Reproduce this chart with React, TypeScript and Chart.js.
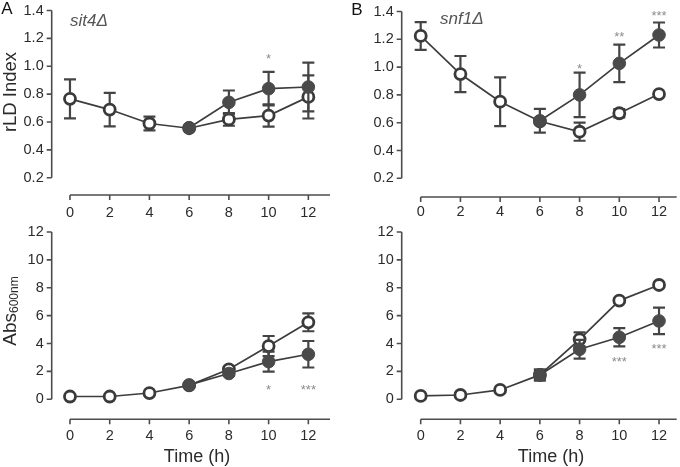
import React, { useEffect, useRef } from 'react';
import { Chart, registerables } from 'chart.js';

Chart.register(...registerables);

// ---------- data ----------
const timeTicks = [0, 2, 4, 6, 8, 10, 12];
const timeTickLabels = ['0', '2', '4', '6', '8', '10', '12'];
const rldTicks = [0.2, 0.4, 0.6, 0.8, 1.0, 1.2, 1.4];
const rldTickLabels = ['0.2', '0.4', '0.6', '0.8', '1.0', '1.2', '1.4'];
const absTicks = [0, 2, 4, 6, 8, 10, 12];
const absTickLabels = ['0', '2', '4', '6', '8', '10', '12'];

const hoursAll = [0, 2, 4, 6, 8, 10, 12];
const hoursTreated = [6, 8, 10, 12];

// A: sit4Δ
const sit4RldOpen = [0.766, 0.689, 0.589, 0.555, 0.618, 0.646, 0.78];
const sit4RldOpenErr = [0.14, 0.12, 0.05, 0.01, 0.045, 0.08, 0.155];
const sit4RldFilled = [0.559, 0.741, 0.839, 0.851];
const sit4RldFilledErr = [0.01, 0.085, 0.12, 0.175];
const sit4AbsOpen = [0.2, 0.2, 0.45, 1.0, 2.15, 3.82, 5.52];
const sit4AbsOpenErr = [0.05, 0.05, 0.08, 0.1, 0.2, 0.72, 0.64];
const sit4AbsFilled = [1.03, 1.85, 2.7, 3.23];
const sit4AbsFilledErr = [0.1, 0.15, 0.72, 0.95];

// B: snf1Δ
const snf1RldOpen = [1.224, 0.95, 0.751, 0.61, 0.535, 0.668, 0.806];
const snf1RldOpenErr = [0.1, 0.13, 0.175, 0.02, 0.065, 0.03, 0.01];
const snf1RldFilled = [0.614, 0.8, 1.027, 1.231];
const snf1RldFilledErr = [0.085, 0.16, 0.135, 0.09];
const snf1AbsOpen = [0.24, 0.31, 0.67, 1.75, 4.3, 7.08, 8.2];
const snf1AbsOpenErr = [0.05, 0.05, 0.08, 0.3, 0.5, 0.15, 0.1];
const snf1AbsFilled = [1.74, 3.59, 4.45, 5.62];
const snf1AbsFilledErr = [0.4, 0.67, 0.66, 0.95];

// significance marks
const sit4RldStarTimes = [10];
const sit4RldStarY = [1.075];
const sit4RldStarText = ['*'];
const snf1RldStarTimes = [8, 10, 12];
const snf1RldStarY = [1.01, 1.243, 1.394];
const snf1RldStarText = ['*', '**', '***'];
const sit4AbsStarTimes = [10, 12];
const sit4AbsStarY = [0.88, 0.88];
const sit4AbsStarText = ['*', '***'];
const snf1AbsStarTimes = [10, 12];
const snf1AbsStarY = [2.89, 3.82];
const snf1AbsStarText = ['***', '***'];

// ---------- styling ----------
const FONT = '"Liberation Sans", Arial, Helvetica, sans-serif';
const AXIS_COLOR = '#4d4d4d';
const TEXT_COLOR = '#2b2b2b';
const LINE_COLOR = '#3d3d3d';
const FILL_COLOR = '#4a4a4a';
const ERR_COLOR = '#444444';
const STAR_COLOR = '#8c8c8c';

type Spec = {
  left: number; top: number; w: number; h: number;
  L: number; R: number; T: number; B: number;
  xMin: number; xMax: number; yMin: number; yMax: number;
  xAxisY: number; xTickPad: number;
  yTicks: number[]; yTickLabels: string[];
  open: number[]; openErr: number[]; filled: number[]; filledErr: number[];
  starT: number[]; starY: number[]; starText: string[];
  yTitle?: 'rld' | 'abs';
  yTitlePos?: [number, number];
  xTitlePos?: [number, number];
  panelLetter?: string; letterPos?: [number, number];
  strain?: string; strainPos?: [number, number];
};

function makeDecor(p: Spec) {
  return {
    id: 'decor',
    beforeDatasetsDraw(chart: any) {
      const ctx = chart.ctx;
      const xs = chart.scales.x, ys = chart.scales.y;
      const area = chart.chartArea;
      ctx.save();
      ctx.strokeStyle = AXIS_COLOR;
      ctx.lineWidth = 1.6;
      // y axis
      const x0 = area.left;
      const yTop = ys.getPixelForValue(p.yTicks[p.yTicks.length - 1]);
      const yBot = ys.getPixelForValue(p.yTicks[0]);
      ctx.beginPath();
      ctx.moveTo(x0, yTop); ctx.lineTo(x0, yBot);
      p.yTicks.forEach((v) => {
        const y = ys.getPixelForValue(v);
        ctx.moveTo(x0 - 5, y); ctx.lineTo(x0, y);
      });
      ctx.stroke();
      // x axis (detached)
      const ya = p.xAxisY;
      ctx.beginPath();
      ctx.moveTo(xs.getPixelForValue(timeTicks[0]), ya);
      ctx.lineTo(area.right, ya);
      timeTicks.forEach((v) => {
        const x = xs.getPixelForValue(v);
        ctx.moveTo(x, ya); ctx.lineTo(x, ya + 5);
      });
      ctx.stroke();
      ctx.restore();
    },
    beforeDatasetDraw(chart: any, args: any) {
      const ds = chart.data.datasets[args.index];
      const errs: number[] = ds.errors;
      if (!errs) return;
      const ctx = chart.ctx;
      const xs = chart.scales.x, ys = chart.scales.y;
      ctx.save();
      ctx.strokeStyle = ERR_COLOR;
      ctx.lineWidth = 2.2;
      ds.data.forEach((pt: any, i: number) => {
        const e = errs[i];
        if (!e) return;
        const x = xs.getPixelForValue(pt.x);
        const y1 = ys.getPixelForValue(pt.y + e);
        const y2 = ys.getPixelForValue(pt.y - e);
        ctx.beginPath();
        ctx.moveTo(x, y1); ctx.lineTo(x, y2);
        ctx.moveTo(x - 6, y1); ctx.lineTo(x + 6, y1);
        ctx.moveTo(x - 6, y2); ctx.lineTo(x + 6, y2);
        ctx.stroke();
      });
      ctx.restore();
    },
    afterDraw(chart: any) {
      const ctx = chart.ctx;
      const xs = chart.scales.x, ys = chart.scales.y;
      ctx.save();
      // stars
      ctx.fillStyle = STAR_COLOR;
      ctx.font = `13px ${FONT}`;
      ctx.textAlign = 'center';
      ctx.textBaseline = 'alphabetic';
      p.starT.forEach((t, i) => {
        const x = xs.getPixelForValue(t);
        const y = ys.getPixelForValue(p.starY[i]);
        ctx.fillText(p.starText[i], x, y + 0.57 * 13);
      });
      // y title
      if (p.yTitle && p.yTitlePos) {
        ctx.fillStyle = TEXT_COLOR;
        ctx.save();
        ctx.translate(p.yTitlePos[0], p.yTitlePos[1]);
        ctx.rotate(-Math.PI / 2);
        ctx.textBaseline = 'middle';
        if (p.yTitle === 'rld') {
          ctx.font = `18.5px ${FONT}`;
          ctx.textAlign = 'center';
          ctx.fillText('rLD Index', 0, 0);
        } else {
          ctx.font = `19px ${FONT}`;
          const w1 = ctx.measureText('Abs').width;
          ctx.font = `12px ${FONT}`;
          const w2 = ctx.measureText('600nm').width;
          const start = -(w1 + w2) / 2;
          ctx.textAlign = 'left';
          ctx.font = `19px ${FONT}`;
          ctx.fillText('Abs', start, 0);
          ctx.font = `12px ${FONT}`;
          ctx.fillText('600nm', start + w1, 4);
        }
        ctx.restore();
      }
      // x title
      if (p.xTitlePos) {
        ctx.fillStyle = TEXT_COLOR;
        ctx.font = `18px ${FONT}`;
        ctx.textAlign = 'center';
        ctx.textBaseline = 'middle';
        ctx.fillText('Time (h)', p.xTitlePos[0], p.xTitlePos[1]);
      }
      // panel letter
      if (p.panelLetter && p.letterPos) {
        ctx.fillStyle = '#111111';
        ctx.font = `17px ${FONT}`;
        ctx.textAlign = 'center';
        ctx.textBaseline = 'middle';
        ctx.fillText(p.panelLetter, p.letterPos[0], p.letterPos[1]);
      }
      // strain label
      if (p.strain && p.strainPos) {
        ctx.fillStyle = '#555555';
        ctx.font = `italic 17px ${FONT}`;
        ctx.textAlign = 'left';
        ctx.textBaseline = 'middle';
        ctx.fillText(p.strain, p.strainPos[0], p.strainPos[1]);
      }
      ctx.restore();
    },
  };
}

function Panel({ spec }: { spec: Spec }) {
  const ref = useRef<HTMLCanvasElement | null>(null);
  useEffect(() => {
    const p = spec;
    const openPts = hoursAll.map((t, i) => ({ x: t, y: p.open[i] }));
    const filledPts = hoursTreated.map((t, i) => ({ x: t, y: p.filled[i] }));
    const tickFont = { family: FONT, size: 14.5 };
    const chart = new Chart(ref.current as HTMLCanvasElement, {
      type: 'line',
      data: {
        datasets: [
          {
            data: filledPts,
            errors: p.filledErr,
            borderColor: LINE_COLOR,
            borderWidth: 1.7,
            pointRadius: 6.3,
            pointBackgroundColor: FILL_COLOR,
            pointBorderColor: FILL_COLOR,
            pointBorderWidth: 1,
            tension: 0,
            fill: false,
            clip: false,
          } as any,
          {
            data: openPts,
            errors: p.openErr,
            borderColor: LINE_COLOR,
            borderWidth: 1.7,
            pointRadius: 5.5,
            pointBackgroundColor: '#ffffff',
            pointBorderColor: '#3a3a3a',
            pointBorderWidth: 2.8,
            tension: 0,
            fill: false,
            clip: false,
          } as any,
        ],
      },
      options: {
        responsive: false,
        animation: false,
        devicePixelRatio: 1,
        events: [],
        layout: { autoPadding: false, padding: { left: 0, top: p.T, right: p.w - p.R, bottom: 0 } },
        plugins: { legend: { display: false }, tooltip: { enabled: false }, title: { display: false } },
        scales: {
          x: {
            type: 'linear',
            min: p.xMin,
            max: p.xMax,
            grid: { display: false, drawTicks: false },
            border: { display: false },
            ticks: {
              padding: p.xTickPad,
              font: tickFont,
              color: TEXT_COLOR,
              maxRotation: 0,
              callback: (_v: any, i: number) => timeTickLabels[i],
            },
            afterBuildTicks: (s: any) => { s.ticks = timeTicks.map((v) => ({ value: v })); },
            afterFit: (s: any) => {
              s.height = p.h - p.B;
              s.paddingLeft = 0; s.paddingRight = 0; s.paddingTop = 0; s.paddingBottom = 0;
            },
          },
          y: {
            type: 'linear',
            position: 'left',
            min: p.yMin,
            max: p.yMax,
            grid: { display: false, drawTicks: false },
            border: { display: false },
            ticks: {
              padding: 8,
              font: tickFont,
              color: TEXT_COLOR,
              callback: (_v: any, i: number) => p.yTickLabels[i],
            },
            afterBuildTicks: (s: any) => { s.ticks = p.yTicks.map((v) => ({ value: v })); },
            afterFit: (s: any) => {
              s.width = p.L;
              s.paddingLeft = 0; s.paddingRight = 0; s.paddingTop = 0; s.paddingBottom = 0;
            },
          },
        },
      } as any,
      plugins: [makeDecor(p)],
    });
    return () => chart.destroy();
  }, [spec]);
  return (
    <canvas
      ref={ref}
      width={spec.w}
      height={spec.h}
      style={{ position: 'absolute', left: spec.left, top: spec.top, width: spec.w, height: spec.h }}
    />
  );
}

const specs: Spec[] = [
  {
    left: 0, top: 0, w: 340, h: 230,
    L: 51.7, R: 330, T: 10.5, B: 177.7,
    xMin: -0.92, xMax: 13.09, yMin: 0.2, yMax: 1.4,
    xAxisY: 195, xTickPad: 26.3,
    yTicks: rldTicks, yTickLabels: rldTickLabels,
    open: sit4RldOpen, openErr: sit4RldOpenErr, filled: sit4RldFilled, filledErr: sit4RldFilledErr,
    starT: sit4RldStarTimes, starY: sit4RldStarY, starText: sit4RldStarText,
    yTitle: 'rld', yTitlePos: [11, 92],
    panelLetter: 'A', letterPos: [7, 9],
    strain: 'sit4Δ', strainPos: [70, 21],
  },
  {
    left: 340, top: 0, w: 340, h: 230,
    L: 61.7, R: 336.7, T: 11.5, B: 178.3,
    xMin: -0.957, xMax: 12.89, yMin: 0.2, yMax: 1.4,
    xAxisY: 197, xTickPad: 25.3,
    yTicks: rldTicks, yTickLabels: rldTickLabels,
    open: snf1RldOpen, openErr: snf1RldOpenErr, filled: snf1RldFilled, filledErr: snf1RldFilledErr,
    starT: snf1RldStarTimes, starY: snf1RldStarY, starText: snf1RldStarText,
    panelLetter: 'B', letterPos: [17, 10],
    strain: 'snf1Δ', strainPos: [100, 19],
  },
  {
    left: 0, top: 222, w: 340, h: 245,
    L: 51.7, R: 330, T: 10, B: 177.3,
    xMin: -0.92, xMax: 13.09, yMin: 0, yMax: 12,
    xAxisY: 197.3, xTickPad: 28.3,
    yTicks: absTicks, yTickLabels: absTickLabels,
    open: sit4AbsOpen, openErr: sit4AbsOpenErr, filled: sit4AbsFilled, filledErr: sit4AbsFilledErr,
    starT: sit4AbsStarTimes, starY: sit4AbsStarY, starText: sit4AbsStarText,
    yTitle: 'abs', yTitlePos: [11, 89],
    xTitlePos: [197, 234.7],
  },
  {
    left: 340, top: 222, w: 340, h: 245,
    L: 61.7, R: 336.7, T: 10, B: 177.3,
    xMin: -0.957, xMax: 12.89, yMin: 0, yMax: 12,
    xAxisY: 197.3, xTickPad: 28.3,
    yTicks: absTicks, yTickLabels: absTickLabels,
    open: snf1AbsOpen, openErr: snf1AbsOpenErr, filled: snf1AbsFilled, filledErr: snf1AbsFilledErr,
    starT: snf1AbsStarTimes, starY: snf1AbsStarY, starText: snf1AbsStarText,
    xTitlePos: [211, 234.7],
  },
];

export default function App() {
  return (
    <div style={{ position: 'fixed', left: 0, top: 0, width: 680, height: 467, background: '#ffffff', overflow: 'hidden' }}>
      {specs.map((s, i) => (
        <Panel key={i} spec={s} />
      ))}
    </div>
  );
}
